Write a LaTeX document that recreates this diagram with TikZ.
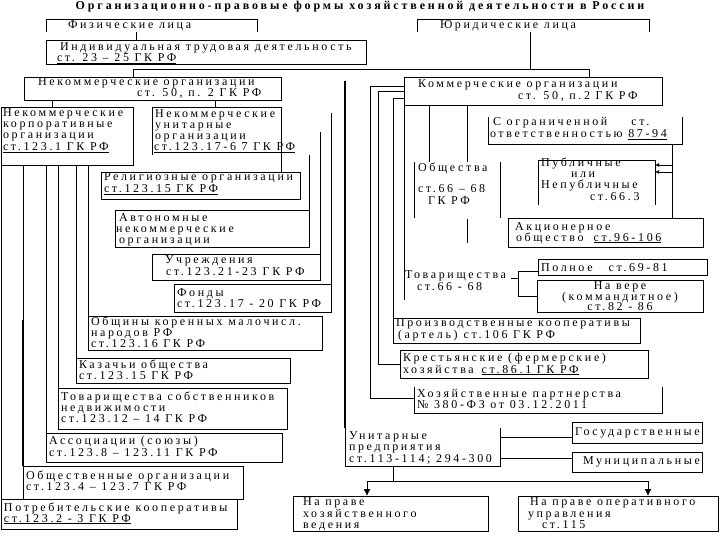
\documentclass[tikz,border=0pt]{standalone}
\usepackage{fontspec}
\setmainfont{Liberation Serif}
\newfontfamily\spfont[LetterSpace=22]{Liberation Serif}
\newfontfamily\spbfont[LetterSpace=24]{Liberation Serif}
\usetikzlibrary{arrows.meta}
\newcommand\Tx[4]{\node[txt] (#1) at (#2,#3) {#4};}
\begin{document}
\begin{tikzpicture}[x=1pt,y=-1pt,
  bx/.style={draw, line width=0.9pt, fill=white, inner sep=0pt, outer sep=0pt, anchor=north west},
  ob/.style={draw=none, inner sep=0pt, outer sep=0pt, anchor=north west},
  txt/.style={anchor=base west, inner sep=0pt, outer sep=0pt, text height=7pt, text depth=1.5pt, font=\spfont\fontsize{12}{12}\selectfont},
  ctxt/.style={anchor=base, inner sep=0pt, outer sep=0pt, text height=7pt, text depth=1.5pt, font=\spfont\fontsize{12}{12}\selectfont},
  ttl/.style={anchor=base, inner sep=0pt, font=\spbfont\bfseries\fontsize{12}{12}\selectfont},
  ln/.style={line width=0.9pt},
  tk/.style={line width=1.8pt},
  arr/.style={line width=0.9pt, -{Latex[length=7pt,width=7pt]}},
  sarr/.style={line width=0.9pt, -{Latex[length=4pt,width=4pt]}}]
\fill[white] (0,0) rectangle (720,540);
\useasboundingbox (0,0) rectangle (720,540);

% ---------- title
\node[ttl] (title) at (360,10) {Организационно-правовые формы хозяйственной деятельности в России};

% ---------- top level
\node[ob, minimum width=211pt, minimum height=13pt] (fiz) at (46,19) {};
\draw[ln] (fiz.south west) -- (fiz.north west) -- (fiz.north east) -- (fiz.south east);
\Tx{fizt}{68}{29}{Физические лица}
\node[ob, minimum width=232pt, minimum height=13pt] (jur) at (417,19) {};
\draw[ln] (jur.south west) -- (jur.north west) -- (jur.north east) -- (jur.south east);
\Tx{jurt}{440}{29}{Юридические лица}

\node[bx, minimum width=320pt, minimum height=24pt] (ind) at (46,40) {};
\Tx{indt1}{60}{51}{Индивидуальная трудовая деятельность}
\Tx{indt2}{57}{62}{\underline{ст. 23 – 25 ГК РФ}}
\draw[ln] (136,0 |- fiz.south) -- (136,0 |- ind.north);

\node[bx, minimum width=257pt, minimum height=23pt] (nekom) at (24,77) {};
\Tx{nekomt1}{38}{86}{Некоммерческие организации}
\Tx{nekomt2}{137}{97}{ст. 50, п. 2 ГК РФ}
\node[bx, minimum width=258pt, minimum height=28pt] (kom) at (404,77) {};
\Tx{komt1}{418}{88}{Коммерческие организации}
\Tx{komt2}{518}{100}{ст. 50, п.2 ГК РФ}

\coordinate (j1) at (530,69);
\draw[ln] (530,0 |- jur.south) -- (j1);
\draw[ln] (133,0 |- nekom.north) -- (133,69) -- (589,69) -- (589,0 |- kom.north);

% ---------- non-commercial
\node[bx, minimum width=132pt, minimum height=58pt] (korp) at (1,107) {};
\Tx{korpt1}{3}{117}{Некоммерческие}
\Tx{korpt2}{3}{128}{корпоративные}
\Tx{korpt3}{3}{139}{организации}
\Tx{korpt4}{3}{150.5}{\underline{ст.123.1 ГК РФ}}
\draw[ln] (52,0 |- nekom.south) -- (52,0 |- korp.north);

\node[ob, minimum width=129pt, minimum height=48pt] (unit) at (152,107) {};
\Tx{unitt1}{155}{118}{Некоммерческие}
\Tx{unitt2}{155}{129}{унитарные}
\Tx{unitt3}{155}{140}{организации}
\Tx{unitt4}{154}{151}{\underline{ст.123.17-6 7 ГК РФ}}
\draw[ln] (215,0 |- nekom.south) -- (215,0 |- unit.north);

\node[bx, minimum width=199pt, minimum height=27pt] (relig) at (101,172) {};
\Tx{religt1}{104}{181}{Религиозные организации}
\Tx{religt2}{104}{193}{\underline{ст.123.15 ГК РФ}}
\draw[ln] (unit.south west) -- (unit.north west) -- (unit.north east) -- (unit.east |- relig.north);

\node[bx, minimum width=194pt, minimum height=37pt] (avt) at (115,210) {};
\Tx{avtt1}{119}{221.5}{Автономные}
\Tx{avtt2}{116}{232.5}{некоммерческие}
\Tx{avtt3}{119}{243.5}{организации}
\draw[ln] (avt.north east) -- (avt.north east |- 0,155);

\node[bx, minimum width=168pt, minimum height=26pt] (uchr) at (152,254) {};
\Tx{uchrt1}{165}{263}{Учреждения}
\Tx{uchrt2}{166}{275}{ст.123.21-23\enspace ГК РФ}
\draw[ln] (uchr.north east) -- (uchr.north east |- 0,132);

\node[bx, minimum width=157pt, minimum height=28pt] (fond) at (174,284) {};
\Tx{fondt1}{177}{296}{Фонды}
\Tx{fondt2}{177}{307.5}{ст.123.17 - 20 ГК РФ}
\draw[ln] (fond.north east) -- (fond.north east |- 0,113);

\node[bx, minimum width=234pt, minimum height=34pt] (obsch) at (88,316) {};
\Tx{obscht1}{91}{325}{Общины коренных малочисл.}
\Tx{obscht2}{91}{336}{народов РФ}
\Tx{obscht3}{91}{347}{ст.123.16 ГК РФ}
\draw[ln] (obsch.north west |- korp.south) -- (obsch.north west);

\node[bx, minimum width=214pt, minimum height=25pt] (kaz) at (76,358) {};
\Tx{kazt1}{79}{368}{Казачьи общества}
\Tx{kazt2}{79}{379}{ст.123.15 ГК РФ}
\draw[ln] (kaz.north west |- korp.south) -- (kaz.north west);

\node[bx, minimum width=229pt, minimum height=41pt] (tsn) at (58,388) {};
\Tx{tsnt1}{61}{400}{Товарищества собственников}
\Tx{tsnt2}{61}{411}{недвижимости}
\Tx{tsnt3}{61}{422}{ст.123.12 – 14 ГК РФ}
\draw[ln] (tsn.north west |- korp.south) -- (tsn.north west);

\node[bx, minimum width=236pt, minimum height=29pt] (assoc) at (46,433) {};
\Tx{assoct1}{49}{444}{Ассоциации (союзы)}
\Tx{assoct2}{49}{456}{ст.123.8 – 123.11 ГК РФ}
\draw[ln] (assoc.north west |- korp.south) -- (assoc.north west);

\node[bx, minimum width=220pt, minimum height=33pt] (obshorg) at (23,466) {};
\Tx{obshorgt1}{26}{479}{Общественные\enspace организации}
\Tx{obshorgt2}{26}{490}{ст.123.4 – 123.7 ГК РФ}
\coordinate (k23) at (23,320);
\draw[ln] (obshorg.north west |- korp.south) -- (k23);
\draw[tk] (k23) -- (obshorg.north west);

\node[bx, minimum width=236pt, minimum height=30pt] (potreb) at (1,499) {};
\Tx{potrebt1}{4}{511}{Потребительские\enspace кооперативы}
\Tx{potrebt2}{4}{522}{\underline{ст.123.2 - 3 ГК РФ}}
\draw[ln] (potreb.north west |- korp.south) -- (potreb.north west);

% ---------- commercial
\node[ob, minimum width=194pt, minimum height=27pt] (ogr) at (488,117) {};
\draw[ln] (ogr.north west) -- (ogr.south west) -- (ogr.south east) -- (ogr.north east);
\Tx{ogrt1}{493}{126}{С ограниченной\hspace{24pt}ст.}
\Tx{ogrt2}{490}{138}{ответственностью \underline{87-94}}

\node[ob, minimum width=86pt, minimum height=56pt] (obshest) at (414,162) {};
\draw[ln] (obshest.north west) -- (obshest.south west);
\draw[ln] (obshest.north east) -- (obshest.south east);
\Tx{obshestt1}{418}{172}{Общества}
\Tx{obshestt2}{418}{193}{ст.66 – 68}
\Tx{obshestt3}{428}{205}{ГК РФ}
\draw[ln] (429,0 |- kom.south) -- (429,0 |- obshest.north);
\draw[ln] (467,0 |- kom.south) -- (467,0 |- obshest.north);
\coordinate (s1) at (467,219);
\coordinate (s2) at (467,243);
\draw[ln] (s1) -- (s2);

\node[ob, minimum width=117pt, minimum height=45pt] (publ) at (538,160) {};
\draw[ln] (publ.south west) -- (publ.north west) -- (publ.north east) -- (publ.south east);
\Tx{publt1}{541}{167}{Публичные}
\Tx{publt2}{571}{178}{или}
\Tx{publt3}{541}{189}{Непубличные}
\Tx{publt4}{590}{200.5}{ст.66.3}

\node[bx, minimum width=195pt, minimum height=29pt] (akc) at (508,218) {};
\Tx{akct1}{515}{230}{Акционерное}
\Tx{akct2}{516}{241}{общество\hspace{10pt}\underline{ст.96-106}}
\draw[ln] (672,0 |- ogr.south) -- (672,0 |- akc.north);
\draw[sarr] (672,165) -- (publ.east |- 0,165);
\draw[sarr] (672,172) -- (publ.east |- 0,172);

\Tx{tovt1}{405}{278}{Товарищества}
\Tx{tovt2}{417}{290}{ст.66 - 68}
\coordinate (kl) at (404,300);
\draw[ln] (kom.south west) -- (kl);
\node[bx, minimum width=169pt, minimum height=16pt] (poln) at (538,259) {};
\Tx{polnt}{541}{271}{Полное\hspace{16pt}ст.69-81}
\node[bx, minimum width=166pt, minimum height=32pt] (naver) at (537,280) {};
\node[ctxt] (navert1) at (620,289.5) {На вере};
\node[ctxt] (navert2) at (620,300) {(коммандитное)};
\node[ctxt] (navert3) at (620,310.5) {ст.82 - 86};
\coordinate (tb) at (518,271);
\draw[ln] (511,278) -- (518,278);
\draw[ln] (tb) -- (518,296);
\draw[ln] (tb) -- (poln.west |- tb);
\draw[ln] (518,296) -- (naver.west |- 0,296);

\node[bx, minimum width=247pt, minimum height=25pt] (proizv) at (393,318) {};
\Tx{proizvt1}{396}{326}{Производственные кооперативы}
\Tx{proizvt2}{398}{338}{(артель)\enspace ст.106 ГК РФ}
\draw[ln] (kom.west |- 0,98) -- (393,98) -- (proizv.north west);

\node[bx, minimum width=248pt, minimum height=28pt] (krest) at (400,350) {};
\Tx{krestt1}{403}{361}{Крестьянские (фермерские)}
\Tx{krestt2}{403}{373}{хозяйства\hspace{8pt}\underline{ст.86.1 ГК РФ}}
\draw[ln] (kom.west |- 0,91) -- (378,91) -- (378,364) -- (krest.west |- 0,364);

\node[ob, minimum width=248pt, minimum height=26pt] (hozp) at (414,387) {};
\draw[ln] (hozp.north west) -- (hozp.south west) -- (hozp.south east) -- (hozp.north east);
\Tx{hozpt1}{417}{397}{Хозяйственные партнерства}
\Tx{hozpt2}{417}{408}{№ 380-ФЗ от 03.12.2011}
\draw[ln] (kom.west |- 0,86) -- (370,86) -- (370,398) -- (hozp.west |- 0,398);

\node[ob, minimum width=155pt, minimum height=38pt] (unitp) at (345,428) {};
\draw[ln] (unitp.north west) -- (unitp.south west) -- (unitp.south east) -- (unitp.north east);
\Tx{unitpt1}{349}{439}{Унитарные}
\Tx{unitpt2}{349}{450}{предприятия}
\Tx{unitpt3}{349}{462}{ст.113-114; 294-300}
\draw[tk] (unitp.north west |- 0,81) -- (unitp.north west);

\node[bx, minimum width=130pt, minimum height=21pt] (gos) at (572,422) {};
\Tx{gost}{575}{435}{Государственные}
\node[bx, minimum width=130pt, minimum height=20pt] (mun) at (572,452) {};
\Tx{munt}{583}{464}{Муниципальные}
\draw[ln] (unitp.east |- 0,437) -- (gos.west |- 0,437);
\draw[ln] (unitp.east |- 0,458) -- (mun.west |- 0,458);

\node[bx, minimum width=195pt, minimum height=35pt] (hozved) at (293,496) {};
\Tx{hozvedt1}{303}{505.5}{На праве}
\Tx{hozvedt2}{303}{517}{хозяйственного}
\Tx{hozvedt3}{303}{528.5}{ведения}
\node[bx, minimum width=200pt, minimum height=35pt] (operupr) at (518,496) {};
\Tx{operuprt1}{530}{505.5}{На праве оперативного}
\Tx{operuprt2}{528}{517}{управления}
\Tx{operuprt3}{542}{528.5}{ст.115}
\coordinate (ub) at (393,481);
\draw[ln] (393,0 |- unitp.south) -- (ub);
\draw[ln] (367,481) -- (648,481);
\draw[arr] (367,481) -- (367,0 |- hozved.north);
\draw[arr] (648,481) -- (648,0 |- operupr.north);
\end{tikzpicture}
\end{document}
